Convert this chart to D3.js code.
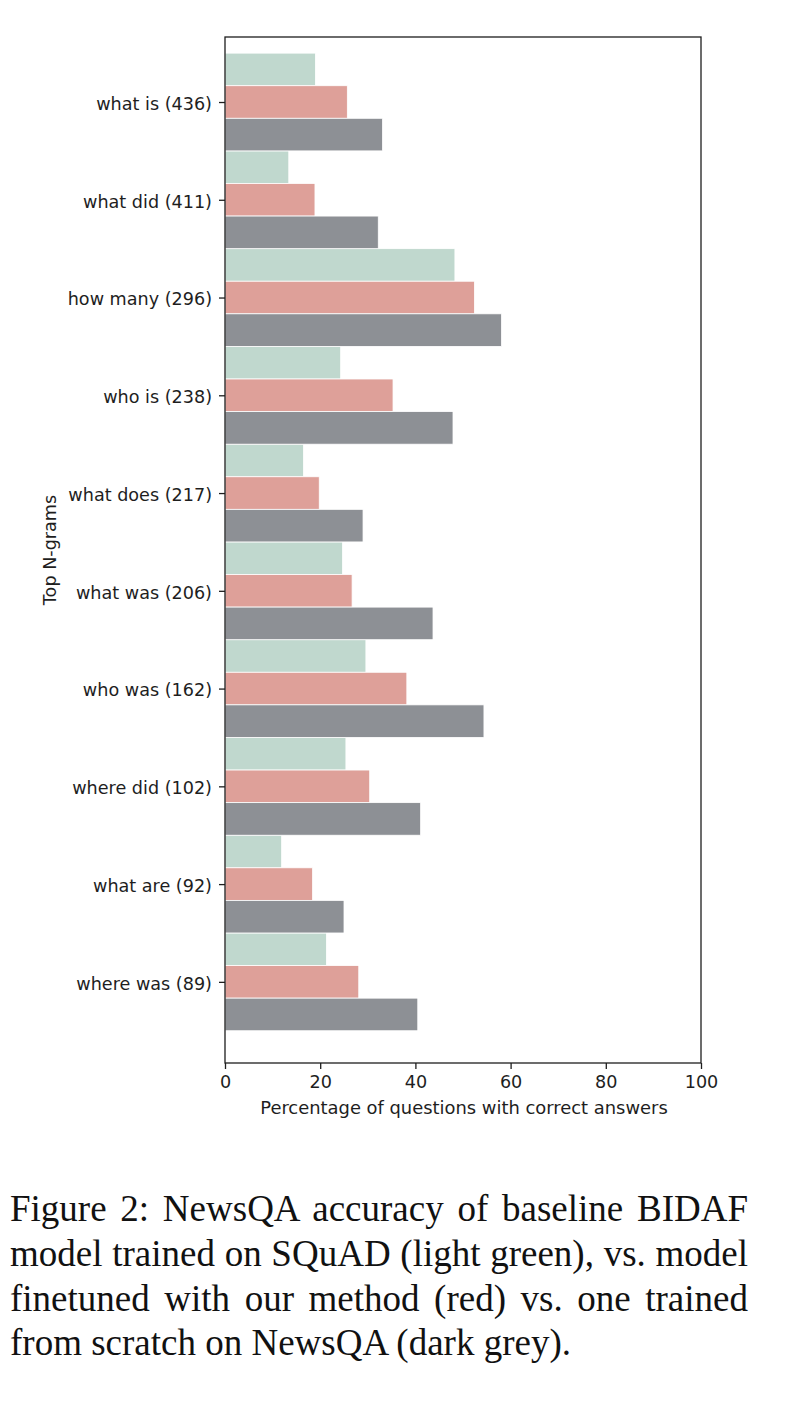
<!DOCTYPE html>
<html>
<head>
<meta charset="utf-8">
<script src="https://cdn.jsdelivr.net/npm/d3@7"></script>
<style>
  body { margin: 0; background: #fff; }
  .canvas { position: relative; width: 788px; height: 1402px; }
  .caption {
    position: absolute;
    left: 10px;
    top: 1187px;
    width: 738px;
    font-family: "Liberation Serif", "Times New Roman", serif;
    font-size: 37px;
    line-height: 44.8px;
    color: #111;
  }
  .caption div { text-align: justify; text-align-last: justify; white-space: nowrap; }
  .caption div.last { text-align: left; text-align-last: left; }
</style>
</head>
<body>
<div class="canvas"></div>
<script>
// data
const ngrams = ['what is (436)', 'what did (411)', 'how many (296)', 'who is (238)', 'what does (217)',
  'what was (206)', 'who was (162)', 'where did (102)', 'what are (92)', 'where was (89)'];
const squadBaseline = [19.0, 13.4, 48.3, 24.3, 16.5, 24.7, 29.6, 25.4, 11.9, 21.3];
const finetuned = [25.7, 18.9, 52.4, 35.3, 19.8, 26.7, 38.2, 30.4, 18.4, 28.1];
const scratch = [33.1, 32.2, 58.1, 47.9, 29.0, 43.7, 54.4, 41.1, 25.0, 40.5];
const xTicks = [0, 20, 40, 60, 80, 100];

const series = [
  { name: 'squad', values: squadBaseline, color: '#c0d8ce', offset: -1 },
  { name: 'ours', values: finetuned, color: '#dea099', offset: 0 },
  { name: 'scratch', values: scratch, color: '#8d9095', offset: 1 }
];

const margin = { top: 37, left: 225, right: 87, bottom: 339 };
const width = 788;
const height = 1402;
const graphWidth = width - margin.left - margin.right;
const graphHeight = height - margin.top - margin.bottom;
const font = '"DejaVu Sans", sans-serif';
const ink = '#1e1e1e';

const svg = d3.select('.canvas')
  .append('svg')
  .attr('width', width)
  .attr('height', height)
  .style('position', 'absolute')
  .style('left', 0)
  .style('top', 0);

const graph = svg.append('g')
  .attr('transform', `translate(${margin.left}, ${margin.top})`);

const x = d3.scaleLinear()
  .domain([0, 100])
  .range([0, graphWidth]);

// category index runs top to bottom, matplotlib-style margins
const y = d3.scaleLinear()
  .domain([-0.665, 9.83])
  .range([0, graphHeight]);

const barH = y(1 / 3) - y(0);

series.forEach(s => {
  graph.append('g')
    .selectAll('rect')
    .data(s.values)
    .enter()
    .append('rect')
      .attr('x', x(0))
      .attr('y', (d, i) => y(i + s.offset / 3 - 1 / 6))
      .attr('width', d => x(d) - x(0))
      .attr('height', barH)
      .attr('fill', s.color)
      .attr('stroke', '#fff')
      .attr('stroke-width', 0.8);
});

// axes
const xAxis = d3.axisBottom(x)
  .tickValues(xTicks)
  .tickSize(6)
  .tickPadding(6)
  .tickSizeOuter(0);

const yAxis = d3.axisLeft(y)
  .tickValues(d3.range(ngrams.length))
  .tickFormat(i => ngrams[i])
  .tickSize(6)
  .tickPadding(7)
  .tickSizeOuter(0);

const xAxisGroup = graph.append('g')
  .attr('transform', `translate(0, ${graphHeight})`)
  .call(xAxis);

const yAxisGroup = graph.append('g')
  .call(yAxis);

[xAxisGroup, yAxisGroup].forEach(g => {
  g.select('.domain').remove();
  g.selectAll('line').attr('stroke', ink).attr('stroke-width', 1.3);
  g.selectAll('text')
    .attr('fill', ink)
    .style('font-family', font)
    .style('font-size', '17.6px');
});

xAxisGroup.selectAll('text').attr('dy', '0.72em');
yAxisGroup.selectAll('text').attr('dy', '0.42em');

// frame
graph.append('rect')
  .attr('x', 0)
  .attr('y', 0)
  .attr('width', graphWidth)
  .attr('height', graphHeight)
  .attr('fill', 'none')
  .attr('stroke', ink)
  .attr('stroke-width', 1.3);

// axis titles
graph.append('text')
  .text('Percentage of questions with correct answers')
  .attr('x', graphWidth / 2 + 1)
  .attr('y', graphHeight + 50.5)
  .attr('text-anchor', 'middle')
  .attr('fill', ink)
  .style('font-family', font)
  .style('font-size', '17.9px');

svg.append('text')
  .text('Top N-grams')
  .attr('transform', `translate(55.5, ${margin.top + graphHeight / 2}) rotate(-90)`)
  .attr('text-anchor', 'middle')
  .attr('fill', ink)
  .style('font-family', font)
  .style('font-size', '17.6px');

// caption
const captionLines = [
  'Figure 2:  NewsQA accuracy of baseline BIDAF',
  'model trained on SQuAD (light green), vs. model',
  'finetuned with our method (red) vs.  one trained',
  'from scratch on NewsQA (dark grey).'
];

d3.select('.canvas')
  .append('div')
  .attr('class', 'caption')
  .selectAll('div')
  .data(captionLines)
  .enter()
  .append('div')
    .attr('class', (d, i) => i === captionLines.length - 1 ? 'last' : null)
    .text(d => d);
</script>
</body>
</html>
